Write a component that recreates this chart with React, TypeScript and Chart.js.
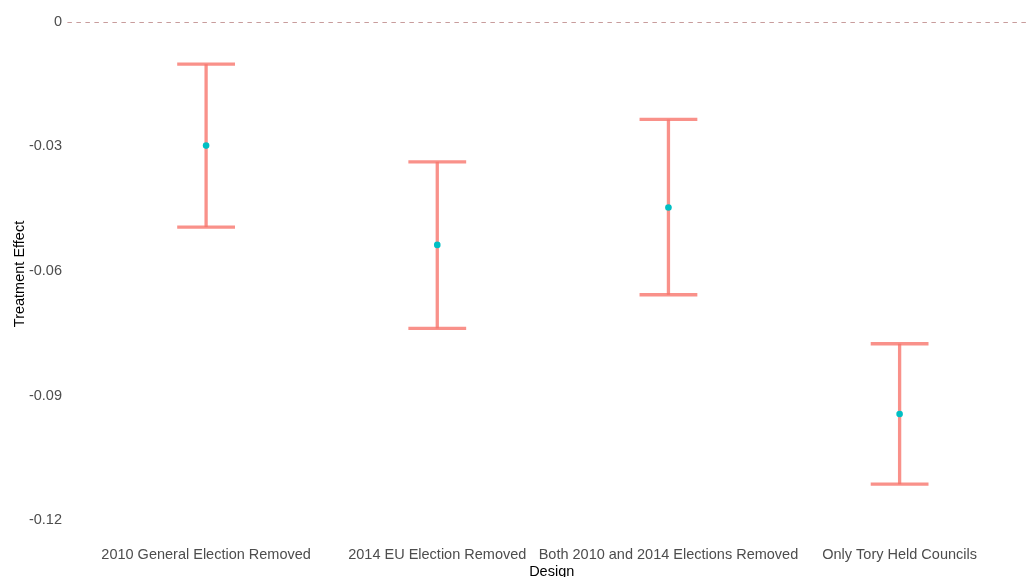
import React, { useEffect, useRef } from "react";
import { Chart, registerables } from "chart.js";

Chart.register(...registerables);

const designs = [
  "2010 General Election Removed",
  "2014 EU Election Removed",
  "Both 2010 and 2014 Elections Removed",
  "Only Tory Held Councils",
];
const estimates = [-0.0298, -0.0537, -0.0447, -0.0944];
const lowerBounds = [-0.0494, -0.0738, -0.0657, -0.1113];
const upperBounds = [-0.0102, -0.0337, -0.0235, -0.0775];
const yTicks = [0, -0.03, -0.06, -0.09, -0.12];

const FONT = "'Liberation Sans', Arial, sans-serif";
const BAR_COLOR = "rgba(248,118,109,0.8)";
const POINT_COLOR = "#00BFC4";
const CAP_HALF = 0.125;

// Zero reference line and confidence intervals, drawn beneath the point estimates
const intervalPlugin = {
  id: "intervals",
  beforeDatasetsDraw(chart: any) {
    const { ctx, chartArea, scales } = chart;
    const x = scales.x;
    const y = scales.y;
    ctx.save();

    const y0 = Math.round(y.getPixelForValue(0)) + 0.5;
    ctx.strokeStyle = "#C89C9C";
    ctx.lineWidth = 1;
    ctx.setLineDash([4.5, 4.5]);
    ctx.beginPath();
    ctx.moveTo(chartArea.left, y0);
    ctx.lineTo(chartArea.right, y0);
    ctx.stroke();
    ctx.setLineDash([]);

    ctx.strokeStyle = BAR_COLOR;
    ctx.lineWidth = 3.3;
    ctx.lineCap = "butt";
    designs.forEach((_, i) => {
      const xc = x.getPixelForValue(i + 1);
      const xl = x.getPixelForValue(i + 1 - CAP_HALF);
      const xr = x.getPixelForValue(i + 1 + CAP_HALF);
      const yl = y.getPixelForValue(lowerBounds[i]);
      const yu = y.getPixelForValue(upperBounds[i]);
      ctx.beginPath();
      ctx.moveTo(xc, yu);
      ctx.lineTo(xc, yl);
      ctx.stroke();
      ctx.beginPath();
      ctx.moveTo(xl, yu);
      ctx.lineTo(xr, yu);
      ctx.moveTo(xl, yl);
      ctx.lineTo(xr, yl);
      ctx.stroke();
    });
    ctx.restore();
  },
};

export default function App() {
  const canvasRef = useRef<HTMLCanvasElement | null>(null);

  useEffect(() => {
    if (!canvasRef.current) return;
    const chart = new Chart(canvasRef.current, {
      type: "scatter",
      data: {
        datasets: [
          {
            data: estimates.map((v, i) => ({ x: i + 1, y: v })),
            backgroundColor: POINT_COLOR,
            borderColor: POINT_COLOR,
            borderWidth: 0,
            pointRadius: 3.3,
          },
        ],
      },
      options: {
        responsive: false,
        animation: false,
        layout: { padding: { left: 0, right: 0, top: 0, bottom: 0 } },
        plugins: {
          legend: { display: false },
          tooltip: { enabled: false },
        },
        scales: {
          x: {
            type: "linear",
            min: 0.4,
            max: 4.59,
            grid: { display: false, drawTicks: false },
            border: { display: false },
            afterBuildTicks: (scale: any) => {
              scale.ticks = designs.map((_, i) => ({ value: i + 1 }));
            },
            afterFit: (scale: any) => {
              scale.height = 33;
              scale.paddingLeft = 0;
              scale.paddingRight = 0;
            },
            ticks: {
              autoSkip: false,
              maxRotation: 0,
              minRotation: 0,
              padding: 2,
              color: "#4D4D4D",
              font: { family: FONT, size: 14.5 },
              callback: (v: any) => designs[Math.round(Number(v)) - 1] ?? "",
            },
            title: {
              display: true,
              text: "Design",
              color: "#000000",
              font: { family: FONT, size: 14.5 },
              padding: { top: 0, bottom: -4 },
            },
          },
          y: {
            type: "linear",
            min: -0.1257,
            max: 0.00429,
            grid: { display: false, drawTicks: false },
            border: { display: false },
            afterBuildTicks: (scale: any) => {
              scale.ticks = yTicks.map((v) => ({ value: v }));
            },
            afterFit: (scale: any) => {
              scale.width = 67.4;
              scale.paddingTop = 0;
              scale.paddingBottom = 0;
            },
            ticks: {
              padding: 5.4,
              color: "#4D4D4D",
              font: { family: FONT, size: 14.5 },
              callback: (v: any) => (Number(v) === 0 ? "0" : Number(v).toFixed(2)),
            },
            title: {
              display: true,
              text: "Treatment Effect",
              color: "#000000",
              font: { family: FONT, size: 14.5 },
              padding: { top: 11.3, bottom: 0 },
            },
          },
        },
      },
      plugins: [intervalPlugin],
    });
    return () => chart.destroy();
  }, []);

  return (
    <div
      style={{
        position: "absolute",
        left: 0,
        top: 0,
        width: 1026,
        height: 577,
        overflow: "hidden",
        background: "#ffffff",
      }}
    >
      <canvas ref={canvasRef} width={1040} height={577} style={{ display: "block" }} />
    </div>
  );
}
